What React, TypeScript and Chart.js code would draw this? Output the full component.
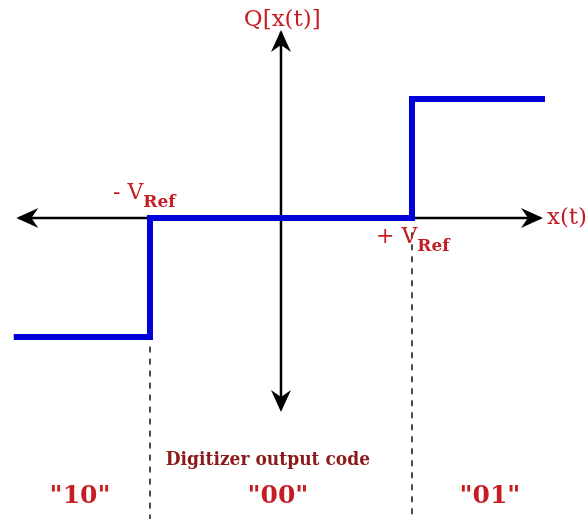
import React, { useEffect, useRef } from "react";
import { Chart, registerables } from "chart.js";

Chart.register(...registerables);

// Scale extents (VRef = 1 unit on x, one quantizer level = 1 unit on y)
const X_MIN = -2.145;
const X_MAX = 2.336;
const Y_MIN = -2.529;
const Y_MAX = 1.832;

// Quantizer transfer characteristic Q[x(t)]
const stepX = [-2.04, -1, -1, 1, 1, 2.015];
const stepY = [-1, -1, 0, 0, 1, 1];

// Axes (x(t) horizontal, Q[x(t)] vertical)
const hAxisX = [-2.0, 1.98];
const hAxisY = [0, 0];
const vAxisX = [0, 0];
const vAxisY = [1.56, -1.6];
// arrow tips
const arrowX = [-2.02, 2.0, 0, 0];
const arrowY = [0, 0, 1.58, -1.63];
const arrowDir = ["left", "right", "up", "down"];

// Threshold dashed lines at -VRef and +VRef
const dashX = [-1, 1];
const dashTop = [-1.08, -0.12];

// Text labels
const labelText = ["Q[x(t)]", "x(t)", "Digitizer output code", '"10"', '"00"', '"01"'];
const labelX = [0.01, 2.03, -0.1, -1.534, -0.023, 1.595];
const labelY = [1.664, 0, -2.076, -2.395, -2.395, -2.395];

// Threshold labels (-VRef, +VRef)
const refSign = ["- V", "+ V"];
const refX = [-1.282, 0.725];
const refY = [0.16, -0.21];

const RED = "#c41e24";
const DARK_RED = "#8b1a1a";
const SERIF = '"DejaVu Serif", "Liberation Serif", serif';

const overlay = {
  id: "overlay",
  afterDatasetsDraw(chart: any) {
    const ctx = chart.ctx;
    const xs = chart.scales.x;
    const ys = chart.scales.y;
    ctx.save();
    // arrowheads
    ctx.fillStyle = "#000";
    const L = 22, W = 10, N = 15;
    arrowX.forEach((ax, i) => {
      const px = xs.getPixelForValue(ax);
      const py = ys.getPixelForValue(arrowY[i]);
      const d = arrowDir[i];
      const ang = d === "right" ? 0 : d === "left" ? Math.PI : d === "up" ? -Math.PI / 2 : Math.PI / 2;
      ctx.save();
      ctx.translate(px, py);
      ctx.rotate(ang);
      ctx.beginPath();
      ctx.moveTo(0, 0);
      ctx.lineTo(-L, -W);
      ctx.lineTo(-N, 0);
      ctx.lineTo(-L, W);
      ctx.closePath();
      ctx.fill();
      ctx.restore();
    });

    // labels
    labelText.forEach((t, i) => {
      const px = xs.getPixelForValue(labelX[i]);
      const py = ys.getPixelForValue(labelY[i]);
      let sx = 1;
      if (i === 0) {
        ctx.font = `23px ${SERIF}`;
        ctx.fillStyle = RED;
        ctx.textAlign = "center";
        ctx.textBaseline = "middle";
      } else if (i === 1) {
        ctx.font = `23px ${SERIF}`;
        ctx.fillStyle = RED;
        ctx.textAlign = "left";
        ctx.textBaseline = "middle";
      } else if (i === 2) {
        ctx.font = `bold 19px ${SERIF}`;
        ctx.fillStyle = DARK_RED;
        ctx.textAlign = "center";
        ctx.textBaseline = "alphabetic";
        sx = 0.9;
      } else {
        ctx.font = `bold 25px ${SERIF}`;
        ctx.fillStyle = RED;
        ctx.textAlign = "center";
        ctx.textBaseline = "alphabetic";
      }
      ctx.save();
      ctx.translate(px, py);
      ctx.scale(sx, 1);
      ctx.fillText(t, 0, 0);
      ctx.restore();
    });

    // -VRef / +VRef with subscript
    ctx.textAlign = "left";
    ctx.textBaseline = "alphabetic";
    refSign.forEach((s, i) => {
      const px = xs.getPixelForValue(refX[i]);
      const py = ys.getPixelForValue(refY[i]);
      ctx.fillStyle = RED;
      ctx.font = `22px ${SERIF}`;
      ctx.fillText(s, px, py);
      const w = ctx.measureText(s).width;
      ctx.font = `bold 17px ${SERIF}`;
      ctx.fillText("Ref", px + w, py + 8);
    });
    ctx.restore();
  },
};

export default function App() {
  const ref = useRef<HTMLCanvasElement | null>(null);
  useEffect(() => {
    if (!ref.current) return;
    const toPts = (xa: number[], ya: number[]) => xa.map((x, i) => ({ x, y: ya[i] }));
    const dashSets = dashX.map((x, i) => ({
      data: toPts([x, x], [dashTop[i], Y_MIN]),
      borderColor: "#111",
      borderWidth: 1.5,
      borderDash: [6, 6],
      showLine: true,
      pointRadius: 0,
      fill: false,
    }));
    const chart = new Chart(ref.current, {
      type: "scatter",
      data: {
        datasets: [
          {
            data: toPts(stepX, stepY),
            borderColor: "#0000d8",
            borderWidth: 6,
            borderJoinStyle: "miter",
            borderCapStyle: "butt",
            showLine: true,
            pointRadius: 0,
            fill: false,
            tension: 0,
          } as any,
          {
            data: toPts(hAxisX, hAxisY),
            borderColor: "#000",
            borderWidth: 2.5,
            showLine: true,
            pointRadius: 0,
          },
          {
            data: toPts(vAxisX, vAxisY),
            borderColor: "#000",
            borderWidth: 2.5,
            showLine: true,
            pointRadius: 0,
          },
          ...dashSets,
        ],
      },
      options: {
        animation: false,
        responsive: false,
        maintainAspectRatio: false,
        layout: { padding: 0 },
        plugins: { legend: { display: false }, tooltip: { enabled: false }, title: { display: false } },
        scales: {
          x: { type: "linear", min: X_MIN, max: X_MAX, display: false },
          y: { type: "linear", min: Y_MIN, max: Y_MAX, display: false },
        },
        events: [],
      },
      plugins: [overlay],
    });
    return () => chart.destroy();
  }, []);
  return (
    <div style={{ position: "absolute", left: 0, top: 0, width: 587, height: 519, background: "#fff" }}>
      <canvas ref={ref} width={587} height={519} style={{ width: 587, height: 519, display: "block" }} />
    </div>
  );
}
